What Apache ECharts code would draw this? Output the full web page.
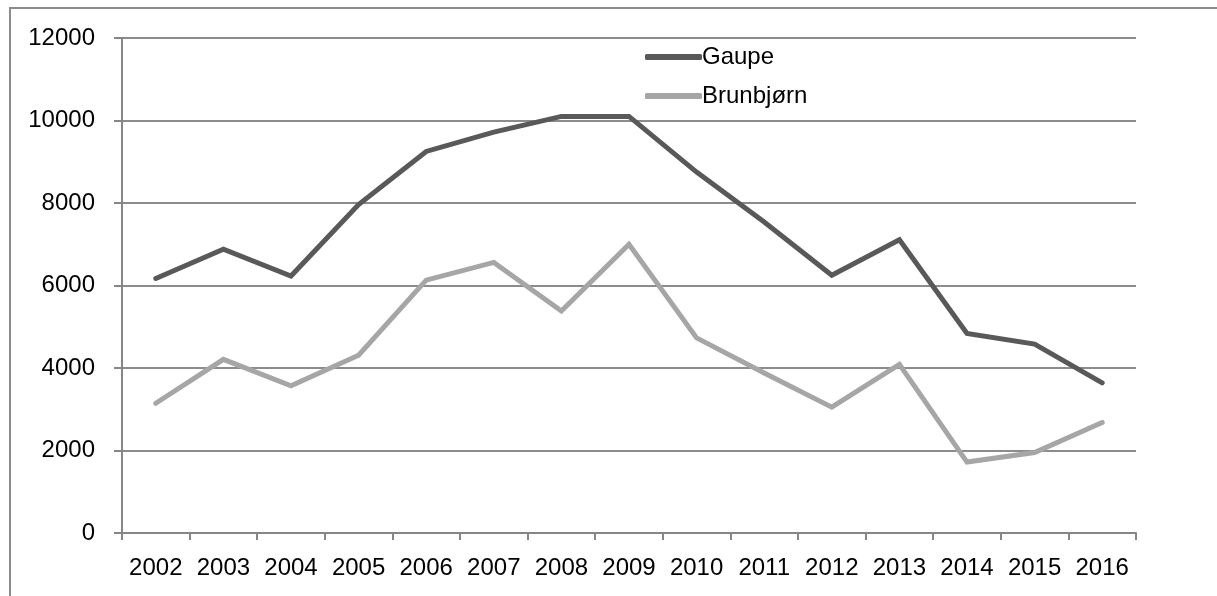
<!DOCTYPE html>
<html>
<head>
<meta charset="utf-8">
<script src="https://cdn.jsdelivr.net/npm/echarts@6/dist/echarts.min.js"></script>
<style>html,body{margin:0;padding:0;background:#fff}#c{width:1217px;height:596px}</style>
</head>
<body>
<div id="c"></div>
<script>
var years = ['2002','2003','2004','2005','2006','2007','2008','2009','2010','2011','2012','2013','2014','2015','2016'];
var gaupe = [6170, 6880, 6230, 7960, 9250, 9720, 10100, 10100, 8750, 7540, 6250, 7110, 4840, 4580, 3640];
var brunbjorn = [3145, 4210, 3570, 4310, 6130, 6560, 5380, 7000, 4730, 3880, 3050, 4090, 1720, 1950, 2680];
var yTicks = {min: 0, max: 12000, interval: 2000};

var chart = echarts.init(document.getElementById('c'));
var font = 'Liberation Sans';
chart.setOption({
  animation: false,
  backgroundColor: '#fff',
  graphic: [{
    type: 'rect', silent: true,
    shape: {x: 10, y: 8, width: 1400, height: 800},
    style: {fill: 'none', stroke: '#8c8c8c', lineWidth: 2}
  }],
  grid: {left: 122, right: 81, top: 38, bottom: 63, containLabel: false},
  legend: {
    orient: 'vertical', left: 640, top: 40,
    itemWidth: 57, itemHeight: 6, itemGap: 15,
    icon: 'roundRect',
    textStyle: {fontFamily: font, fontSize: 24, color: '#000', padding: [0, 0, 0, -5]},
    data: ['Gaupe', 'Brunbjørn']
  },
  xAxis: {
    type: 'category', data: years, boundaryGap: true,
    axisLine: {lineStyle: {color: '#868686', width: 2}},
    axisTick: {show: true, interval: 0, length: 7, lineStyle: {color: '#868686', width: 2}},
    axisLabel: {interval: 0, hideOverlap: false, fontFamily: font, fontSize: 24, color: '#000', margin: 23}
  },
  yAxis: {
    type: 'value', min: yTicks.min, max: yTicks.max, interval: yTicks.interval,
    axisLine: {show: true, lineStyle: {color: '#868686', width: 2}},
    axisTick: {show: true, length: 8, lineStyle: {color: '#868686', width: 2}},
    splitLine: {lineStyle: {color: '#8c8c8c', width: 2}},
    axisLabel: {fontFamily: font, fontSize: 24, color: '#000', margin: 27,
      formatter: function (v) { return String(v); }}
  },
  series: [
    {name: 'Gaupe', type: 'line', data: gaupe, symbol: 'none', color: '#595959',
     lineStyle: {width: 5, color: '#595959', cap: 'round', join: 'miter'}},
    {name: 'Brunbjørn', type: 'line', data: brunbjorn, symbol: 'none', color: '#a6a6a6',
     lineStyle: {width: 5, color: '#a6a6a6', cap: 'round', join: 'miter'}}
  ]
});
</script>
</body>
</html>
